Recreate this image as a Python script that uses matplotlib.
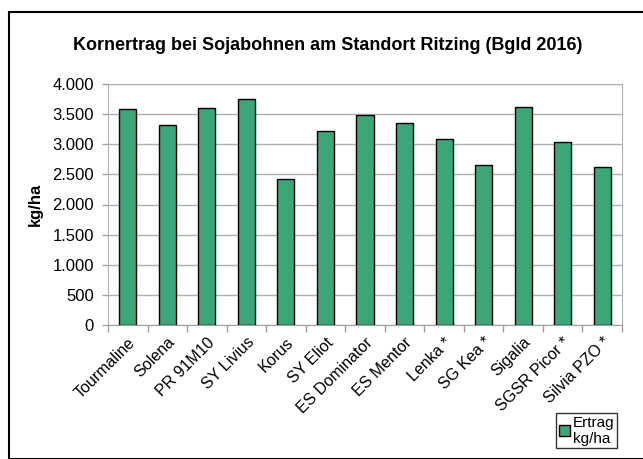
import matplotlib.pyplot as plt
from matplotlib.patches import Rectangle, Patch
from matplotlib.ticker import FuncFormatter, FixedLocator

sorten = ['Tourmaline', 'Solena', 'PR 91M10', 'SY Livius', 'Korus', 'SY Eliot',
          'ES Dominator', 'ES Mentor', 'Lenka *', 'SG Kea *', 'Sigalia',
          'SGSR Picor *', 'Silvia PZO *']
ertrag = [3580, 3314, 3607, 3746, 2418, 3225, 3485, 3358, 3082, 2661, 3624, 3032, 2618]
y_ticks = [0, 500, 1000, 1500, 2000, 2500, 3000, 3500, 4000]

plt.rcParams['font.family'] = ['Liberation Sans', 'DejaVu Sans']

W, H = 643, 459
fig = plt.figure(figsize=(W / 100, H / 100), dpi=100)

# outer frame
fig.patches.append(Rectangle((9 / W, 0), 1.0, (H - 12) / H, transform=fig.transFigure,
                             fill=False, edgecolor='black', linewidth=1.5))

ax = fig.add_axes([108 / W, (H - 325) / H, (622 - 108) / W, (325 - 84) / H])
x = list(range(len(sorten)))
ax.bar(x, ertrag, width=0.43, color='#3ca678', edgecolor='black', linewidth=1.0, zorder=3)

ax.set_xlim(-0.5, len(sorten) - 0.5)
ax.set_ylim(0, 4000)
ax.set_yticks(y_ticks)
ax.yaxis.set_major_formatter(FuncFormatter(lambda v, p: f'{int(v):,}'.replace(',', '.')))
ax.grid(axis='y', color='#b0b0b0', linewidth=1.0, zorder=0)

ax.set_xticks(x)
ax.set_xticklabels(sorten, rotation=45, ha='right', rotation_mode='anchor', fontsize=11.5)
ax.tick_params(axis='x', length=0, pad=7)
ax.xaxis.set_minor_locator(FixedLocator([i - 0.5 for i in range(len(sorten) + 1)]))
ax.tick_params(axis='x', which='minor', length=5, color='#a0a0a0', width=1)
ax.tick_params(axis='y', labelsize=12, length=4, color='#a0a0a0', width=1, pad=6)

for s in ['top', 'right', 'left']:
    ax.spines[s].set_color('#b0b0b0')
ax.spines['bottom'].set_color('#a0a0a0')

ax.set_ylabel('kg/ha', fontsize=12, fontweight='bold', labelpad=7)

fig.text(328 / W, 1 - 46 / H, 'Kornertrag bei Sojabohnen am Standort Ritzing (Bgld 2016)',
         ha='center', va='center', fontsize=13, fontweight='bold')

leg = fig.legend(handles=[Patch(facecolor='#3ca678', edgecolor='black', label='Ertrag\nkg/ha')],
                 loc='lower right', bbox_to_anchor=(617 / W, 1 - 448 / H), fontsize=11,
                 frameon=True, fancybox=False, edgecolor='black', handlelength=0.75,
                 handleheight=0.75, handletextpad=0.2, borderpad=0.15, borderaxespad=0,
                 labelspacing=0.1)
leg.get_frame().set_linewidth(1.0)

fig.savefig('out.png', dpi=100)
